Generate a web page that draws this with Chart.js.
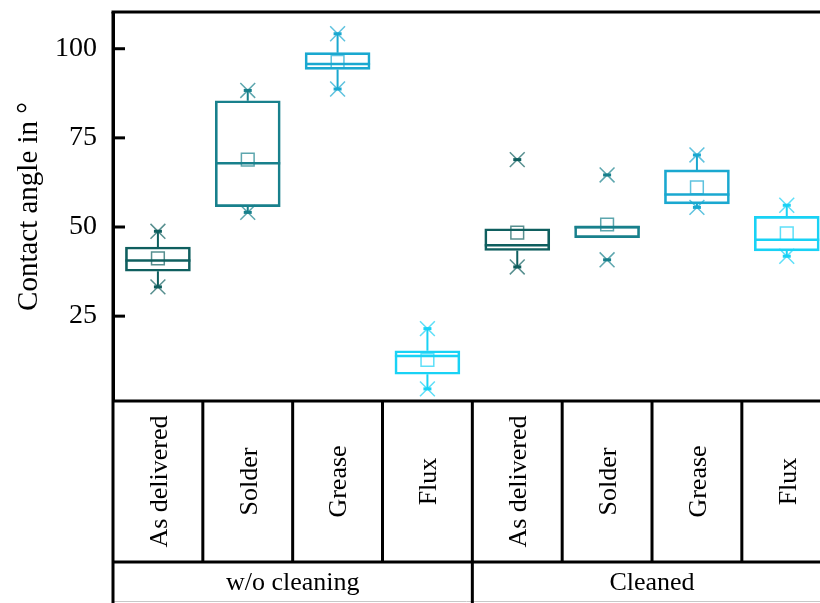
<!DOCTYPE html>
<html lang="en">
<head>
  <meta charset="UTF-8">
  <title>Contact angle</title>
  <script src="https://cdn.jsdelivr.net/npm/chart.js"></script>
  <style>
    html, body { margin: 0; padding: 0; background: #fff; overflow: hidden; }
    #chart { display: block; }
  </style>
</head>
<body>
<canvas id="chart" width="820" height="603"></canvas>

<script>
  // categories and groups
  const categories = ['As delivered', 'Solder', 'Grease', 'Flux', 'As delivered', 'Solder', 'Grease', 'Flux'];
  const groups = ['w/o cleaning', 'Cleaned'];
  const groupSpans = [[0, 3], [4, 7]];

  // box statistics (contact angle in degrees)
  const q1 = [37.6, 55.7, 94.2, 8.7, 43.4, 47.0, 56.5, 43.3];
  const median = [40.6, 67.9, 95.7, 13.8, 44.9, 49.9, 59.1, 46.4];
  const q3 = [44.4, 85.4, 98.9, 15.3, 49.5, 50.3, 66.0, 53.0];
  const mean = [41.2, 68.9, 96.3, 12.7, 48.4, 50.7, 61.1, 48.2];
  const whiskerLow = [33.2, 54.1, 88.7, 4.6, 38.8, 47.0, 55.5, 41.8];
  const whiskerHigh = [48.8, 88.3, 104.2, 21.5, 49.5, 50.3, 70.2, 56.1];
  const minVal = [33.2, 54.1, 88.7, 4.6, 38.8, 40.8, 55.5, 41.8];
  const maxVal = [48.8, 88.3, 104.2, 21.5, 68.9, 64.6, 70.2, 56.1];

  const yTicks = [25, 50, 75, 100];

  const palette = ['#0f5f5f', '#18808c', '#1aa8d0', '#19d2f5'];
  const paletteLight = ['rgba(15,95,95,0.7)', 'rgba(24,128,140,0.7)', 'rgba(26,168,208,0.7)', 'rgba(25,210,245,0.7)'];
  const colors = categories.map((c, i) => palette[i % 4]);
  const lightColors = categories.map((c, i) => paletteLight[i % 4]);

  const serif = 'Liberation Serif';

  const pts = arr => arr.map((v, i) => ({ x: i, y: v }));

  // whiskers, inward ticks, frame and the category table under the plot
  const boxExtras = {
    id: 'boxExtras',
    beforeDatasetsDraw(chart) {
      const { ctx, scales: { x, y } } = chart;
      ctx.save();
      ctx.lineWidth = 2;
      categories.forEach((c, i) => {
        const px = x.getPixelForValue(i);
        ctx.strokeStyle = colors[i];
        ctx.beginPath();
        ctx.moveTo(px, y.getPixelForValue(q3[i]));
        ctx.lineTo(px, y.getPixelForValue(whiskerHigh[i]));
        ctx.moveTo(px, y.getPixelForValue(q1[i]));
        ctx.lineTo(px, y.getPixelForValue(whiskerLow[i]));
        ctx.stroke();
      });
      ctx.restore();
    },
    afterDraw(chart) {
      const { ctx, chartArea: area, scales: { x, y } } = chart;
      const W = chart.width, H = chart.height;
      const rowY = 562;
      ctx.save();

      // faint bottom edge of the table
      ctx.strokeStyle = '#c8c8c8';
      ctx.lineWidth = 1;
      ctx.beginPath();
      ctx.moveTo(area.left, H - 1.5);
      ctx.lineTo(W, H - 1.5);
      ctx.stroke();

      ctx.strokeStyle = '#000';
      ctx.lineWidth = 3;

      // top frame line
      ctx.beginPath();
      ctx.moveTo(area.left - 1.5, area.top);
      ctx.lineTo(W, area.top);
      ctx.stroke();

      // inward y ticks
      yTicks.forEach(v => {
        const py = y.getPixelForValue(v);
        ctx.beginPath();
        ctx.moveTo(area.left, py);
        ctx.lineTo(area.left + 12, py);
        ctx.stroke();
      });

      // table lines
      ctx.beginPath();
      ctx.moveTo(area.left - 1.5, area.bottom);
      ctx.lineTo(W, area.bottom);
      ctx.moveTo(area.left - 1.5, rowY);
      ctx.lineTo(W, rowY);
      ctx.moveTo(area.left, area.top);
      ctx.lineTo(area.left, H);
      for (let i = 1; i <= categories.length; i++) {
        const px = x.getPixelForValue(i - 0.5);
        ctx.moveTo(px, area.bottom);
        ctx.lineTo(px, rowY);
      }
      groupSpans.forEach(s => {
        const px = x.getPixelForValue(s[1] + 0.5);
        ctx.moveTo(px, rowY);
        ctx.lineTo(px, H);
      });
      ctx.stroke();

      // category labels (rotated)
      ctx.fillStyle = '#000';
      ctx.font = '26px "' + serif + '"';
      ctx.textAlign = 'center';
      ctx.textBaseline = 'middle';
      const midY = (area.bottom + rowY) / 2;
      categories.forEach((c, i) => {
        ctx.save();
        ctx.translate(x.getPixelForValue(i) + 2, midY);
        ctx.rotate(-Math.PI / 2);
        ctx.fillText(c, 0, 0);
        ctx.restore();
      });

      // group labels
      groups.forEach((g, k) => {
        const cx = (x.getPixelForValue(groupSpans[k][0] - 0.5) + x.getPixelForValue(groupSpans[k][1] + 0.5)) / 2;
        ctx.fillText(g, cx, 583);
      });
      ctx.restore();
    }
  };

  new Chart(document.getElementById('chart'), {
    type: 'bar',
    data: {
      datasets: [
        {
          // boxes q1..q3
          type: 'bar',
          data: categories.map((c, i) => ({ x: i, y: [q1[i], q3[i]] })),
          backgroundColor: 'rgba(0,0,0,0)',
          borderColor: colors,
          borderWidth: 2,
          borderSkipped: false,
          barThickness: 65,
          grouped: false
        },
        {
          // median lines
          type: 'scatter',
          data: pts(median),
          pointStyle: 'line',
          pointRadius: 32.5,
          borderColor: colors,
          pointBorderColor: colors,
          pointBorderWidth: 2.5
        },
        {
          // mean squares
          type: 'scatter',
          data: pts(mean),
          pointStyle: 'rect',
          pointRadius: 9,
          pointBackgroundColor: 'rgba(0,0,0,0)',
          pointBorderColor: lightColors,
          pointBorderWidth: 1.5
        },
        {
          type: 'scatter',
          data: pts(maxVal),
          pointStyle: 'crossRot',
          pointRadius: 10.5,
          pointBorderColor: lightColors,
          pointBorderWidth: 1.5
        },
        {
          type: 'scatter',
          data: pts(minVal),
          pointStyle: 'crossRot',
          pointRadius: 10.5,
          pointBorderColor: lightColors,
          pointBorderWidth: 1.5
        },
        {
          type: 'scatter',
          data: pts(maxVal).concat(pts(minVal)),
          pointStyle: 'line',
          pointRadius: 4,
          pointBorderColor: colors.concat(colors),
          pointBorderWidth: 3
        }
      ]
    },
    options: {
      responsive: false,
      animation: false,
      layout: { autoPadding: false, padding: { top: 12, bottom: 202, left: 0, right: 0 } },
      plugins: { legend: { display: false }, tooltip: { enabled: false } },
      scales: {
        x: { type: 'linear', min: -0.5, max: 7.37, offset: false, display: false },
        y: {
          min: 1.2,
          max: 110.3,
          afterBuildTicks: s => { s.ticks = yTicks.map(v => ({ value: v })); },
          afterFit: s => { s.width = 113; s.paddingTop = 0; s.paddingBottom = 0; },
          grid: { display: true, drawOnChartArea: false, drawTicks: false },
          border: { display: true, color: '#000', width: 3 },
          ticks: { color: '#000', font: { family: serif, size: 28 }, padding: 16 },
          title: {
            display: true,
            text: 'Contact angle in °',
            color: '#000',
            font: { family: serif, size: 29 },
            padding: { top: 12, bottom: 0 }
          }
        }
      }
    },
    plugins: [boxExtras]
  });
</script>
</body>
</html>
